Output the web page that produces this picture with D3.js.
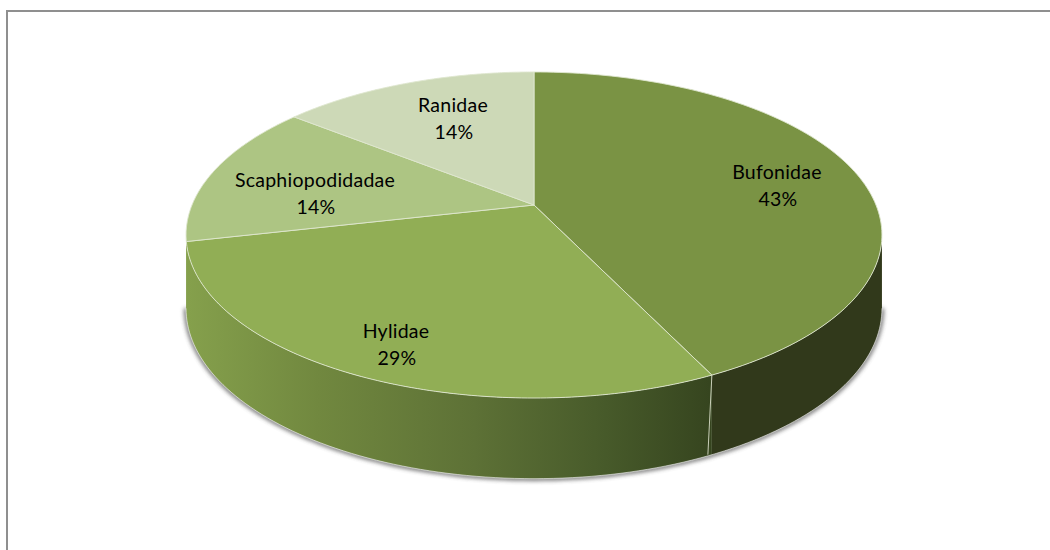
<!DOCTYPE html>
<html><head><meta charset="utf-8">
<script src="https://cdn.jsdelivr.net/npm/d3@7/dist/d3.min.js"></script>
<style>html,body{margin:0;padding:0;background:#fff}svg{display:block}</style>
</head><body>
<svg id="c" width="1050" height="550"></svg>
<script>
const families = ["Bufonidae","Hylidae","Scaphiopodidadae","Ranidae"];
const counts = [3,2,1,1];
const percentLabels = ["43%","29%","14%","14%"];
const topColors = ["#7a9344","#91ae55","#adc583","#cdd9b7"];
const labelAnchorX = [777,396,315,453];
const labelAnchorY = [179,338,187,112];

const svg = d3.select("#c");
const defs = svg.append("defs");
defs.append("filter").attr("id","blur").attr("x","-5%").attr("y","-5%").attr("width","110%").attr("height","110%")
  .append("feGaussianBlur").attr("stdDeviation",2);

const grad = defs.append("linearGradient").attr("id","wall").attr("gradientUnits","userSpaceOnUse")
  .attr("x1",187).attr("x2",710).attr("y1",0).attr("y2",0);
[[0,"#85a04c"],[0.25,"#71883f"],[0.55,"#5d7136"],[0.8,"#475a2a"],[1,"#36451f"]].forEach(s=>
  grad.append("stop").attr("offset",s[0]).attr("stop-color",s[1]));

// frame
svg.append("path").attr("d","M7,550V11H1050").attr("fill","none").attr("stroke","#8f8f8f").attr("stroke-width",2);

// perspective mapping of the pie plane
const cx=534, cy=205, k=0.184, a=157.5, b=342, depth=72;
const px = t => cx + b*Math.sin(t)/(1+k*Math.cos(t));
const py = t => cy - a*Math.cos(t)/(1+k*Math.cos(t));
const line = d3.line().x(d=>d[0]).y(d=>d[1]);

const arcs = d3.pie().sort(null)(counts);
const edge = (t0,t1) => d3.range(0,121).map(i=>t0+(t1-t0)*i/120).map(t=>[px(t),py(t)]);
const lower = p => p[1]+depth*(1+0.12*(p[1]-cy)/193);

const tR = Math.PI/2+Math.asin(k), tL = 3*Math.PI/2-Math.asin(k);
const wall = (t0,t1) => {
  const up = edge(t0,t1);
  const dn = up.map(p=>[p[0],lower(p)]).reverse();
  return line(up.concat(dn))+"Z";
};
const wallOuter = (t0,t1)=> edge(t0,t1).map(p=>[p[0],lower(p)]);

// soft shadow around lower rim
svg.append("path").attr("d",line(wallOuter(tR,tL))).attr("fill","none")
  .attr("stroke","#444").attr("stroke-width",4).attr("filter","url(#blur)").attr("opacity",.8);

const t1 = arcs[0].endAngle;
svg.append("path").attr("d",wall(tR,t1)).attr("fill","#31391b");
svg.append("path").attr("d",wall(t1,tL)).attr("fill","url(#wall)");
// seam between wall sections
const sx=px(t1), sy=py(t1);
svg.append("path").attr("d",line([[sx,sy],[sx-4,lower([sx,sy])]]))
  .attr("stroke","#c9cfb8").attr("stroke-width",1).attr("fill","none");
svg.append("path").attr("d",line(wallOuter(tR,tL))).attr("fill","none")
  .attr("stroke","#fff").attr("stroke-opacity",.55).attr("stroke-width",1);

// top face
arcs.forEach((d,i)=>{
  svg.append("path").attr("d",line([[cx,cy]].concat(edge(d.startAngle,d.endAngle)))+"Z")
    .attr("fill",topColors[i]).attr("stroke","#dfe6cf").attr("stroke-width",.9).attr("stroke-linejoin","round");
});

// labels
families.forEach((f,i)=>{
  const t=svg.append("text").attr("text-anchor","middle").attr("font-family","Lato, Carlito, sans-serif")
    .attr("font-size",19.5).attr("letter-spacing",.25).attr("fill","#000");
  t.append("tspan").attr("x",labelAnchorX[i]).attr("y",labelAnchorY[i]).text(f);
  t.append("tspan").attr("x",labelAnchorX[i]+1).attr("y",labelAnchorY[i]+27).text(percentLabels[i]);
});
</script>
</body></html>
